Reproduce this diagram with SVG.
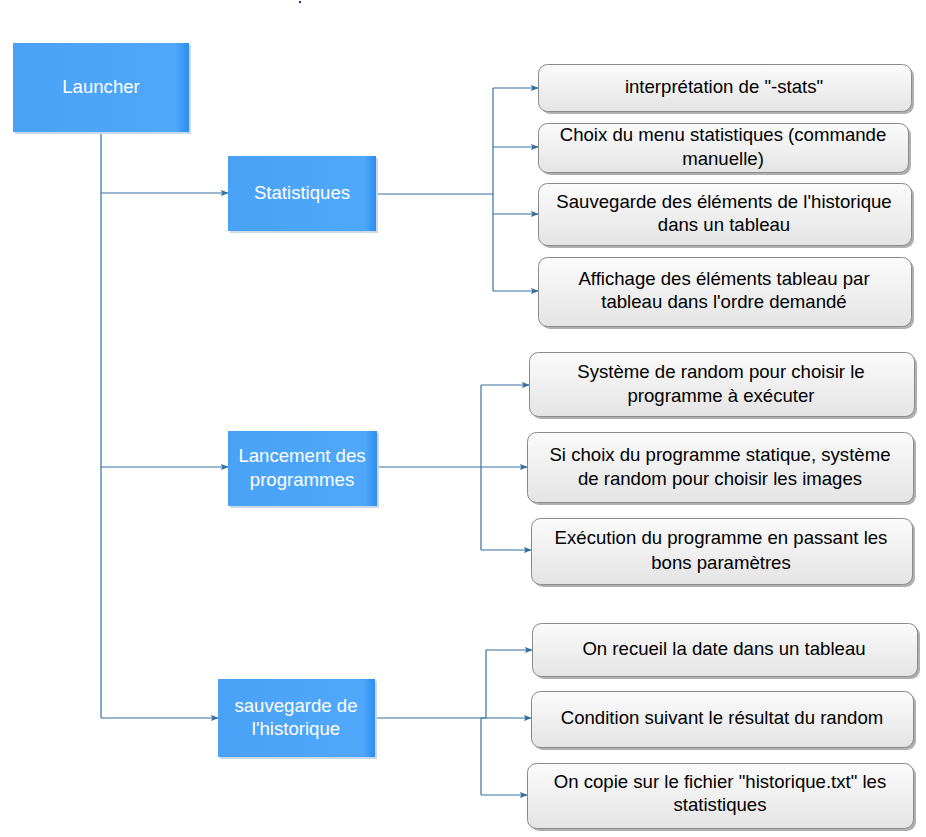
<svg xmlns="http://www.w3.org/2000/svg" width="926" height="837" viewBox="0 0 926 837">
<defs>
  <linearGradient id="gBlue" x1="0" y1="0" x2="1" y2="0">
    <stop offset="0" stop-color="#4aa2f7"/>
    <stop offset="0.92" stop-color="#4fa8fb"/>
    <stop offset="1" stop-color="#2d8ef0"/>
  </linearGradient>
  <linearGradient id="gGray" x1="0" y1="0" x2="0" y2="1">
    <stop offset="0" stop-color="#fbfbfb"/>
    <stop offset="1" stop-color="#e4e4e4"/>
  </linearGradient>
  <marker id="arr" viewBox="0 0 10 10" refX="9" refY="5" markerWidth="8" markerHeight="8" markerUnits="userSpaceOnUse" orient="auto">
    <path d="M0,1 L10,5 L0,9 L2,5 Z" fill="#3570a0"/>
  </marker>
</defs>
<style>
  .blue { fill: url(#gBlue); }
  .bshadow { fill: #c9d9ea; }
  .gray { fill: url(#gGray); stroke: #8a8a8a; stroke-width: 1; }
  .gshadow { fill: #b0b0b0; }
  .wt { font-family: "Liberation Sans", Arial, sans-serif; font-size: 18.6px; fill: #ffffff; text-anchor: middle; }
  .bt { font-family: "Liberation Sans", Arial, sans-serif; font-size: 18.6px; fill: #000000; text-anchor: middle; }
  .ln { fill: none; stroke: #3570a0; stroke-width: 1.2; }
</style>
<rect x="299" y="1" width="2" height="2" fill="#2a2a9a"/>

<g id="connectors">
  <path class="ln" d="M101,131 V718"/>
  <path class="ln" d="M101,193 H228" marker-end="url(#arr)"/>
  <path class="ln" d="M101,467 H228" marker-end="url(#arr)"/>
  <path class="ln" d="M101,718 H218" marker-end="url(#arr)"/>

  <path class="ln" d="M375,194 H493"/>
  <path class="ln" d="M493,88 V291"/>
  <path class="ln" d="M493,88 H538" marker-end="url(#arr)"/>
  <path class="ln" d="M493,147 H538" marker-end="url(#arr)"/>
  <path class="ln" d="M493,214 H538" marker-end="url(#arr)"/>
  <path class="ln" d="M493,291 H538" marker-end="url(#arr)"/>

  <path class="ln" d="M377,467 H481"/>
  <path class="ln" d="M481,385 V550"/>
  <path class="ln" d="M481,385 H529" marker-end="url(#arr)"/>
  <path class="ln" d="M481,467 H527" marker-end="url(#arr)"/>
  <path class="ln" d="M481,550 H531" marker-end="url(#arr)"/>

  <path class="ln" d="M375,718 H486"/>
  <path class="ln" d="M486,650 V718"/>
  <path class="ln" d="M486,650 H532" marker-end="url(#arr)"/>
  <path class="ln" d="M481,718 V795"/>
  <path class="ln" d="M481,718 H531" marker-end="url(#arr)"/>
  <path class="ln" d="M481,795 H527" marker-end="url(#arr)"/>
</g>

<g id="launcher">
  <rect class="bshadow" x="15" y="45" width="176" height="89"/>
  <rect class="blue" x="13" y="43" width="176" height="89"/>
  <text class="wt" x="101" y="93">Launcher</text>
</g>
<g id="statistiques">
  <rect class="bshadow" x="230" y="158" width="148" height="75"/>
  <rect class="blue" x="228" y="156" width="148" height="75"/>
  <text class="wt" x="302" y="199">Statistiques</text>
</g>
<g id="lancement">
  <rect class="bshadow" x="230" y="433" width="149" height="75"/>
  <rect class="blue" x="228" y="431" width="149" height="75"/>
  <text class="wt" x="302" y="462">Lancement des</text>
  <text class="wt" x="302" y="486">programmes</text>
</g>
<g id="sauvegarde">
  <rect class="bshadow" x="220" y="681" width="157" height="78"/>
  <rect class="blue" x="218" y="679" width="157" height="78"/>
  <text class="wt" x="296" y="712">sauvegarde de</text>
  <text class="wt" x="296" y="735">l'historique</text>
</g>

<g id="s1">
  <rect class="gshadow" x="541" y="67" width="373" height="47" rx="9"/>
  <rect class="gray" x="538.5" y="64.5" width="373" height="47" rx="9"/>
  <text class="bt" x="724" y="93">interprétation de "-stats"</text>
</g>
<g id="s2">
  <rect class="gshadow" x="541" y="126" width="370" height="49" rx="9"/>
  <rect class="gray" x="538.5" y="123.5" width="370" height="49" rx="9"/>
  <text class="bt" x="723" y="141">Choix du menu statistiques (commande</text>
  <text class="bt" x="723" y="165">manuelle)</text>
</g>
<g id="s3">
  <rect class="gshadow" x="541" y="186" width="373" height="62" rx="9"/>
  <rect class="gray" x="538.5" y="183.5" width="373" height="62" rx="9"/>
  <text class="bt" x="724" y="208">Sauvegarde des éléments de l'historique</text>
  <text class="bt" x="724" y="231">dans un tableau</text>
</g>
<g id="s4">
  <rect class="gshadow" x="541" y="260" width="373" height="69" rx="9"/>
  <rect class="gray" x="538.5" y="257.5" width="373" height="69" rx="9"/>
  <text class="bt" x="724" y="285">Affichage des éléments tableau par</text>
  <text class="bt" x="724" y="308">tableau dans l'ordre demandé</text>
</g>

<g id="l1">
  <rect class="gshadow" x="532" y="355" width="385" height="64" rx="9"/>
  <rect class="gray" x="529.5" y="352.5" width="385" height="64" rx="9"/>
  <text class="bt" x="721" y="378">Système de random pour choisir le</text>
  <text class="bt" x="721" y="402">programme à exécuter</text>
</g>
<g id="l2">
  <rect class="gshadow" x="530" y="435" width="386" height="70" rx="9"/>
  <rect class="gray" x="527.5" y="432.5" width="386" height="70" rx="9"/>
  <text class="bt" x="720" y="461">Si choix du programme statique, système</text>
  <text class="bt" x="720" y="485">de random pour choisir les images</text>
</g>
<g id="l3">
  <rect class="gshadow" x="534" y="521" width="381" height="66" rx="9"/>
  <rect class="gray" x="531.5" y="518.5" width="381" height="66" rx="9"/>
  <text class="bt" x="721" y="544">Exécution du programme en passant les</text>
  <text class="bt" x="721" y="569">bons paramètres</text>
</g>

<g id="h1">
  <rect class="gshadow" x="535" y="626" width="385" height="53" rx="9"/>
  <rect class="gray" x="532.5" y="623.5" width="385" height="53" rx="9"/>
  <text class="bt" x="724" y="655">On recueil la date dans un tableau</text>
</g>
<g id="h2">
  <rect class="gshadow" x="534" y="694" width="382" height="56" rx="9"/>
  <rect class="gray" x="531.5" y="691.5" width="382" height="56" rx="9"/>
  <text class="bt" x="722" y="724">Condition suivant le résultat du random</text>
</g>
<g id="h3">
  <rect class="gshadow" x="530" y="766" width="386" height="65" rx="9"/>
  <rect class="gray" x="527.5" y="763.5" width="386" height="65" rx="9"/>
  <text class="bt" x="720" y="788">On copie sur le fichier "historique.txt" les</text>
  <text class="bt" x="720" y="811">statistiques</text>
</g>
</svg>
